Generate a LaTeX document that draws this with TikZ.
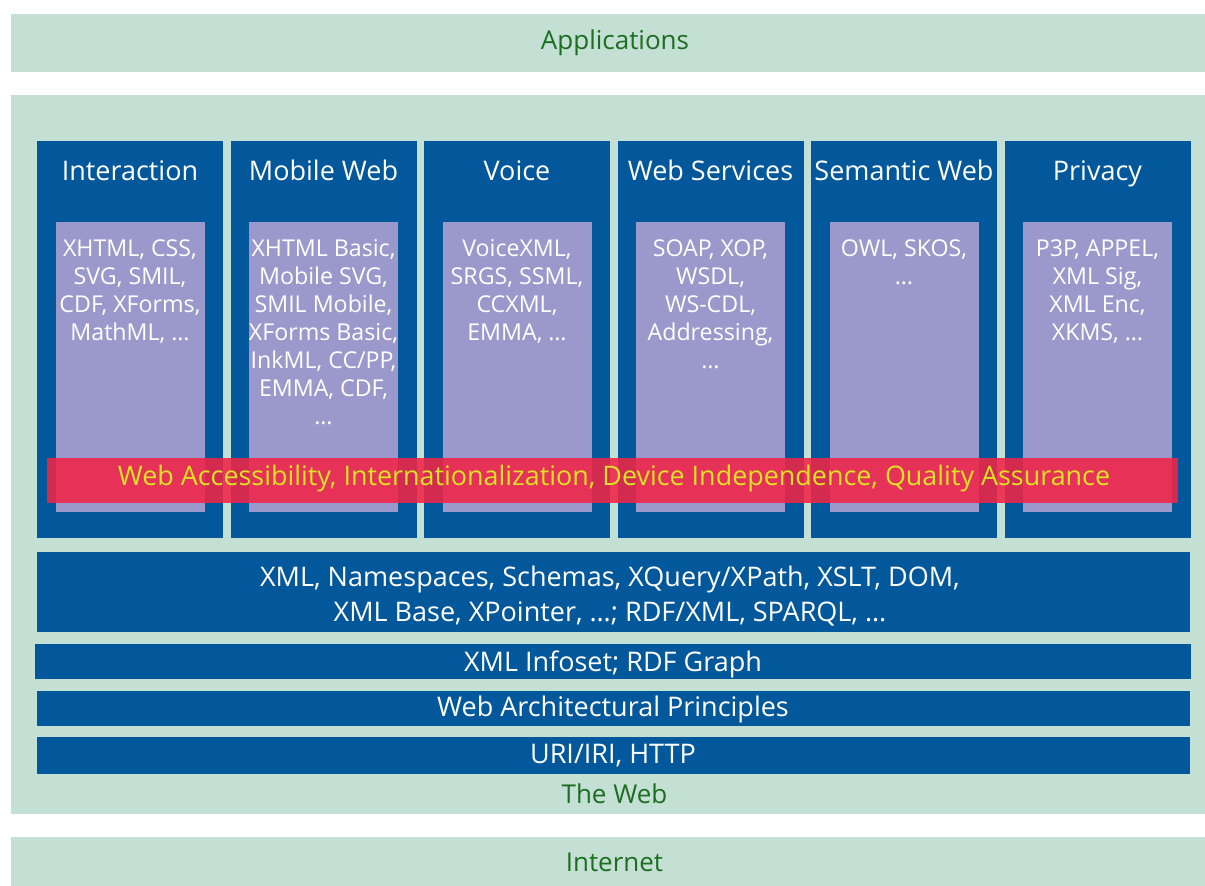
\documentclass[tikz,border=0pt]{standalone}
\usepackage{fontspec}
\setmainfont{Open Sans}
\definecolor{lgreen}{RGB}{196,224,212}
\definecolor{dblue}{RGB}{2,88,155}
\definecolor{lpurple}{RGB}{155,153,203}
\definecolor{rband}{RGB}{240,36,70}
\definecolor{ytext}{RGB}{222,226,36}
\definecolor{gtext}{RGB}{28,110,32}
\begin{document}
\begin{tikzpicture}[x=1pt,y=-1pt,
  panel/.style={fill=lgreen, draw=none, inner sep=0pt, outer sep=0pt, anchor=north west},
  col/.style={fill=dblue, draw=none, inner sep=0pt, outer sep=0pt, anchor=north west, minimum width=186pt, minimum height=397pt},
  inbox/.style={fill=lpurple, draw=none, inner sep=0pt, outer sep=0pt, anchor=north west, minimum width=149pt, minimum height=290pt},
  bar/.style={fill=dblue, draw=none, inner sep=0pt, outer sep=0pt, anchor=north west, minimum width=1153pt},
  gtxt/.style={text=gtext, font=\fontsize{26}{30}\selectfont, anchor=base, inner sep=0pt},
  wtitle/.style={text=white, font=\fontsize{27}{30}\selectfont, anchor=base, inner sep=0pt},
  wbody/.style={text=white, font=\fontsize{23.2}{28}\selectfont, anchor=base, align=center, inner sep=0pt},
  wbar/.style={text=white, font=\fontsize{27}{35}\selectfont, anchor=base, align=center, inner sep=0pt},
  ytxt/.style={text=ytext, font=\fontsize{26.9}{30}\selectfont, anchor=base, inner sep=0pt}
]
\useasboundingbox (0,0) rectangle (1205,886);
\fill[white] (0,0) rectangle (1205,886);
% outer panels
\node[panel, minimum width=1194pt, minimum height=58pt] (app) at (11,14) {};
\node[panel, minimum width=1194pt, minimum height=719pt] (web) at (11,95) {};
\node[panel, minimum width=1194pt, minimum height=49pt] (inet) at (11,837) {};
\node[gtxt] (appt) at (615,49.3) {Applications};
\node[gtxt] (webt) at (614.5,803.3) {The Web};
\node[gtxt] (inett) at (614.5,871.7) {Internet};
% columns (n = number of body lines; base anchor = last line)
\foreach \i/\name/\n/\title/\body in {
  0/c1/4/Interaction/{XHTML, CSS,\\SVG, SMIL,\\CDF, XForms,\\MathML, \ldots},
  1/c2/7/Mobile Web/{XHTML Basic,\\Mobile SVG,\\SMIL Mobile,\\XForms Basic,\\InkML, CC/PP,\\EMMA, CDF,\\\ldots},
  2/c3/4/Voice/{VoiceXML,\\SRGS, SSML,\\CCXML,\\EMMA, \ldots},
  3/c4/5/Web Services/{SOAP, XOP,\\WSDL,\\WS-CDL,\\Addressing,\\\ldots},
  4/c5/2/Semantic Web/{OWL, SKOS,\\\ldots},
  5/c6/4/Privacy/{P3P, APPEL,\\XML Sig,\\XML Enc,\\XKMS, \ldots}} {
  \pgfmathsetmacro{\xl}{37+193.5*\i}
  \pgfmathsetmacro{\yb}{256.7+28*(\n-1)}
  \node[col] (\name) at (\xl,141) {};
  \node[inbox] (\name in) at (\xl+18.5,222) {};
  \node[wtitle] (\name t) at (\xl+93,180) {\title};
  \node[wbody] (\name b) at (\xl+93,\yb) {\body};
}
% red band
\node[fill=rband, fill opacity=0.88, draw=none, inner sep=0pt, anchor=north west, minimum width=1131pt, minimum height=45pt] (band) at (47,458) {};
\node[ytxt] (bandt) at (614,485) {Web Accessibility, Internationalization, Device Independence, Quality Assurance};
% bars
\node[bar, minimum height=80pt] (xml) at (37,552) {};
\node[wbar] (xmlt) at (610,621.7) {XML, Namespaces, Schemas, XQuery/XPath, XSLT, DOM,\\XML Base, XPointer, \ldots; RDF/XML, SPARQL, \ldots};
\node[bar, minimum height=35pt, minimum width=1156pt] (info) at (34.5,644) {};
\node[wbar] (infot) at (613,671.7) {XML Infoset; RDF Graph};
\node[bar, minimum height=35pt] (arch) at (37,691) {};
\node[wbar] (archt) at (613,716.7) {Web Architectural Principles};
\node[bar, minimum height=37pt] (uri) at (37,737) {};
\node[wbar] (urit) at (613,763.3) {URI/IRI, HTTP};
\end{tikzpicture}
\end{document}
